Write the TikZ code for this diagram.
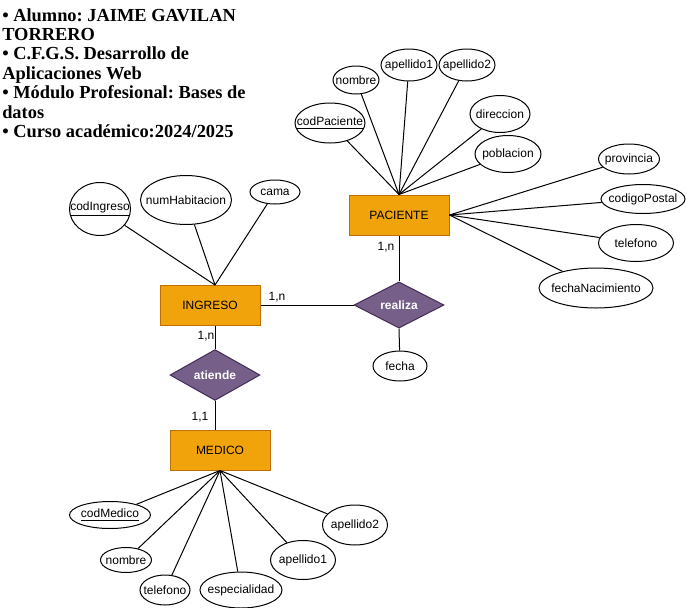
\documentclass[tikz,border=0pt]{standalone}
\usepackage{fontspec}
\setmainfont{Liberation Serif}
\newfontfamily\arial{Liberation Sans}
\usetikzlibrary{shapes.geometric}
\definecolor{entfill}{HTML}{F0A30A}
\definecolor{entdraw}{HTML}{BD7000}
\definecolor{relfill}{HTML}{76608A}
\definecolor{reldraw}{HTML}{432D57}
\tikzset{
  entity/.style={draw=entdraw, fill=entfill, line width=0.75pt, minimum width=75pt, minimum height=30pt, font=\arial\fontsize{9}{11}\selectfont, inner sep=0pt},
  rel/.style={diamond, draw=reldraw, fill=relfill, line width=0.75pt, minimum width=67.5pt, minimum height=30pt, inner sep=0pt, text=white, font=\arial\bfseries\fontsize{9}{11}\selectfont},
  attr/.style={ellipse, draw=black, fill=white, line width=0.75pt, inner sep=0pt},
  every label/.style={font=\arial\fontsize{9}{11}\selectfont, inner sep=0pt},
  sz/.style 2 args={minimum width=#1*0.75pt, minimum height=#2*0.75pt},
  card/.style={font=\arial\fontsize{9}{11}\selectfont, inner sep=0pt},
  conn/.style={draw=black, line width=0.75pt}
}
\begin{document}
\begin{tikzpicture}[x=0.75pt, y=-0.75pt]
\useasboundingbox (0,0) rectangle (687,608);
% header
\node[anchor=north west, align=left, inner sep=0pt, font=\frenchspacing\bfseries\fontsize{13.8}{14.6}\selectfont] (header) at (2,8)
{• Alumno: JAIME GAVILAN\\TORRERO\\• C.F.G.S. Desarrollo de\\Aplicaciones Web\\• Módulo Profesional: Bases de\\datos\\• Curso académico:2024/2025};
% entities
\node[entity] (PAC) at (399,215) {PACIENTE};
\node[entity] (ING) at (210,305) {INGRESO};
\node[entity] (MED) at (220,450) {MEDICO};
% relationships
\node[rel] (realiza) at (399,305) {realiza};
\node[rel] (atiende) at (215,375) {atiende};
% coordinates
\coordinate (ingtop) at (215,285);
% PACIENTE attributes
\node[attr, sz={70}{40}, label=center:\underline{codPaciente}] (codPaciente) at (330,123) {};
\node[attr, sz={46}{28}, label=center:nombre] (pnombre) at (356,80) {};
\node[attr, sz={56}{32}, label=center:apellido1] (pap1) at (409,65) {};
\node[attr, sz={56}{32}, label=center:apellido2] (pap2) at (467,65) {};
\node[attr, sz={60}{37}, label=center:direccion] (direccion) at (500,114) {};
\node[attr, sz={66}{37}, label=center:poblacion] (poblacion) at (508,154) {};
\node[attr, sz={61}{30}, label=center:provincia] (provincia) at (629,159) {};
\node[attr, sz={84}{29}, label=center:codigoPostal] (codigoPostal) at (643,199) {};
\node[attr, sz={75}{37}, label=center:telefono] (ptel) at (636,243) {};
\node[attr, sz={114}{40}, label=center:fechaNacimiento] (fechaNac) at (596,288) {};
\foreach \a in {codPaciente,pnombre,pap1,pap2,direccion,poblacion}
  \draw[conn] (\a) -- (PAC.north);
\foreach \a in {provincia,codigoPostal,ptel,fechaNac}
  \draw[conn] (\a) -- (PAC.east);
% INGRESO attributes
\node[attr, sz={61}{53}, label=center:\underline{codIngreso}] (codIngreso) at (100,209) {};
\node[attr, sz={91}{49}, label=center:numHabitacion] (numHab) at (186,200) {};
\node[attr, sz={50}{24}, label=center:cama] (cama) at (275,192) {};
\foreach \a in {codIngreso,numHab,cama}
  \draw[conn] (\a) -- (ingtop);
% relationship attribute
\node[attr, sz={54}{30}, label=center:fecha] (fecha) at (400,366) {};
\draw[conn] (realiza.south) -- (fecha);
% relationship links
\draw[conn] (PAC.south) -- (realiza.north);
\draw[conn] (ING.east) -- (realiza.west);
\draw[conn] (ING.south -| atiende.north) -- (atiende.north);
\draw[conn] (atiende.south) -- (MED.north -| atiende.south);
\node[card] (c1) at (386,247) {1,n};
\node[card] (c2) at (277,297) {1,n};
\node[card] (c3) at (206,336) {1,n};
\node[card] (c4) at (200,417) {1,1};
% MEDICO attributes
\node[attr, sz={81}{27}, label=center:\underline{codMedico}] (codMedico) at (110,515) {};
\node[attr, sz={51}{25}, label=center:nombre] (mnombre) at (126,560) {};
\node[attr, sz={50}{30}, label=center:telefono] (mtel) at (165,590) {};
\node[attr, sz={82}{36}, label=center:especialidad] (especialidad) at (241,590) {};
\node[attr, sz={65}{39}, label=center:apellido1] (map1) at (303,560) {};
\node[attr, sz={65}{40}, label=center:apellido2] (map2) at (355,525) {};
\foreach \a in {codMedico,mnombre,mtel,especialidad,map1,map2}
  \draw[conn] (\a) -- (MED.south);
\end{tikzpicture}
\end{document}
